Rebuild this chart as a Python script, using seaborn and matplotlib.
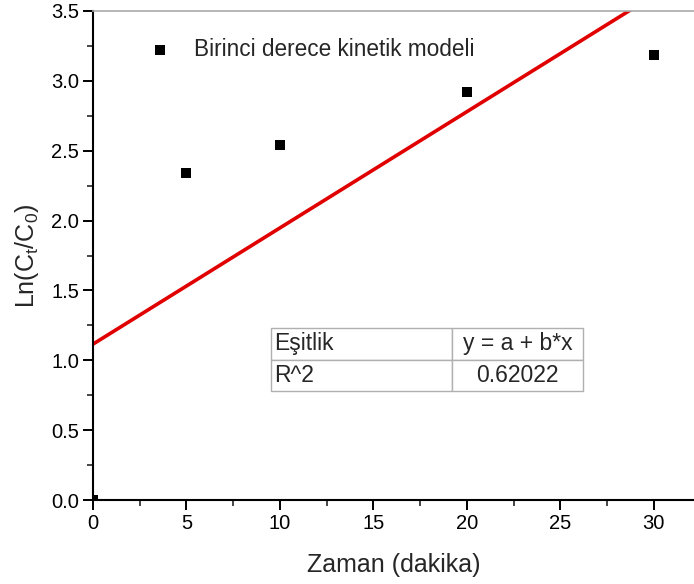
import numpy as np
import pandas as pd
import matplotlib
matplotlib.use("Agg")
import matplotlib.pyplot as plt
import seaborn as sns
from matplotlib.ticker import MultipleLocator

# Measured data: time (min) vs ln(Ct/C0)
zaman = [0, 5, 10, 20, 30]
ln_ratio = [0.0, 2.34, 2.54, 2.92, 3.185]
seri_adi = "Birinci derece kinetik modeli"
tablo_satirlari = [["Eşitlik", "y = a + b*x"], ["R^2", "0.62022"]]

df = pd.DataFrame({"Zaman": zaman, "Ln": ln_ratio})

sns.set_style("ticks")
plt.rcParams["font.family"] = ["Liberation Sans", "DejaVu Sans"]
plt.rcParams["mathtext.default"] = "regular"

fig = plt.figure(figsize=(6.94, 5.84), dpi=100)
ax = fig.add_axes([93 / 694, 84 / 584, 601 / 694, 489 / 584])

ax.set_xlim(0, 32.15)
ax.set_ylim(0, 3.5)

sns.scatterplot(data=df, x="Zaman", y="Ln", ax=ax, marker="s", s=55,
                color="black", edgecolor="black", linewidth=0, label=seri_adi,
                zorder=3)
sns.regplot(data=df, x="Zaman", y="Ln", ax=ax, scatter=False, ci=None,
            truncate=False, color="#e00000", line_kws={"lw": 2.6, "zorder": 2})

ax.set_xlim(0, 32.15)
ax.set_ylim(0, 3.5)

ax.xaxis.set_major_locator(MultipleLocator(5))
ax.xaxis.set_minor_locator(MultipleLocator(2.5))
ax.yaxis.set_major_locator(MultipleLocator(0.5))
ax.yaxis.set_minor_locator(MultipleLocator(0.25))
ax.yaxis.set_major_formatter(matplotlib.ticker.FormatStrFormatter("%.1f"))

ax.tick_params(which="major", direction="out", length=7, width=1.4,
               labelsize=14.5, colors="black", pad=3)
ax.tick_params(which="minor", direction="out", length=4, width=1.2)

for side in ("left", "bottom"):
    ax.spines[side].set_linewidth(1.5)
    ax.spines[side].set_color("black")
ax.spines["top"].set_visible(True)
ax.spines["top"].set_color("#aaaaaa")
ax.spines["top"].set_linewidth(1.2)
ax.spines["right"].set_visible(False)

ax.set_xlabel("Zaman (dakika)", fontsize=18)
ax.set_ylabel(r"Ln(C$_t$/C$_0$)", fontsize=18)
ax.xaxis.set_label_coords(0.5, -0.108)
ax.yaxis.set_label_coords(-0.086, 0.5)

leg = ax.legend(loc="upper left", bbox_to_anchor=(0.04, 0.986), frameon=False,
                fontsize=16.3, handletextpad=0.5, markerscale=1.0)

tbl = ax.table(cellText=tablo_satirlari, cellLoc="center",
               colWidths=[181, 131],
               bbox=[(271 - 93) / 601, (500 - 391) / 489,
                     (583 - 271) / 601, (391 - 328) / 489])
tbl.auto_set_font_size(False)
tbl.set_fontsize(16.5)
for (r, c), cell in tbl.get_celld().items():
    cell.set_edgecolor("#b0b0b0")
    cell.set_linewidth(1.0)
    cell.set_facecolor("white")
    if c == 0:
        cell.set_text_props(ha="left")
        cell.PAD = 0.02
tbl.set_zorder(4)

fig.savefig("out.png", dpi=100)
